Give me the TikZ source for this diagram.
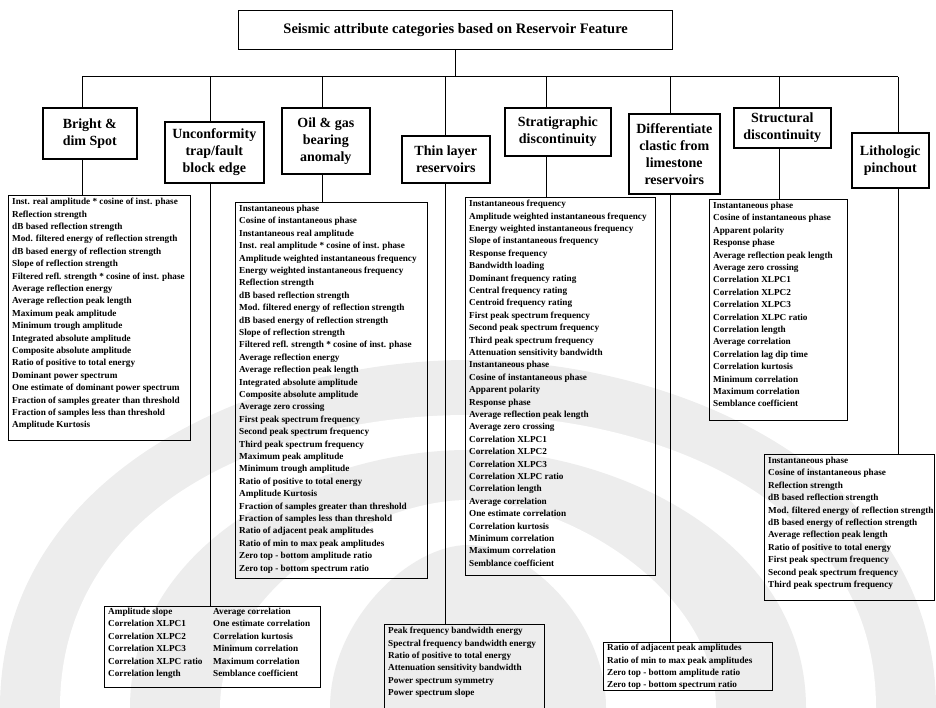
\documentclass[tikz,border=0pt]{standalone}
\usepackage{fontspec}
\setmainfont{Liberation Serif}
\begin{document}
\begin{tikzpicture}[x=1pt,y=-1pt,
  conn/.style={line width=1pt},
  lbox/.style={draw, line width=1.1pt, anchor=north west, inner sep=0pt},
  ltext/.style={anchor=north west, inner sep=0pt, align=left, font=\fontsize{9.2}{12.4}\selectfont\bfseries},
  hbox/.style={draw, line width=1.6pt, anchor=north west, inner sep=0pt, align=center, font=\fontsize{14}{17}\selectfont\bfseries},
  wm/.style={fill=gray!14}
]
\useasboundingbox (0,0) rectangle (936,708);
% faint watermark
\fill[wm] (0,708) .. controls (0,470) and (260,360) .. (468,360) .. controls (676,360) and (936,470) .. (936,708) -- cycle;
\fill[white] (60,708) .. controls (60,500) and (280,415) .. (468,415) .. controls (656,415) and (876,500) .. (876,708) -- cycle;
\fill[wm] (130,708) .. controls (130,540) and (320,450) .. (468,450) .. controls (616,450) and (806,540) .. (806,708) -- cycle;
\fill[white] (220,708) .. controls (220,590) and (370,500) .. (468,500) .. controls (566,500) and (716,590) .. (716,708) -- cycle;
\fill[wm] (330,708) .. controls (330,620) and (410,545) .. (468,545) .. controls (526,545) and (606,620) .. (606,708) -- cycle;

% title
\node[hbox, line width=1.3pt, minimum width=434pt, minimum height=39pt, font=\fontsize{14.5}{17}\selectfont\bfseries] (title) at (238,10) {Seismic attribute categories based on Reservoir Feature};

% headers
\node[hbox, minimum width=94pt, minimum height=51pt] (h1) at (42,107) {Bright \&\\dim Spot};
\node[hbox, minimum width=99pt, minimum height=61pt] (h2) at (164,121) {Unconformity\\trap/fault\\block edge};
\node[hbox, minimum width=88pt, minimum height=66pt] (h3) at (281,107) {Oil \& gas\\bearing\\anomaly};
\node[hbox, minimum width=88pt, minimum height=47pt] (h4) at (401,135) {Thin layer\\reservoirs};
\node[hbox, minimum width=106pt, minimum height=48pt] (h5) at (504,107) {Stratigraphic\\discontinuity};
\node[hbox, minimum width=91pt, minimum height=80pt] (h6) at (628,113) {Differentiate\\clastic from\\limestone\\reservoirs};
\node[hbox, minimum width=97pt, minimum height=40pt] (h7) at (733,107) {Structural\\discontinuity};
\node[hbox, minimum width=77pt, minimum height=55pt] (h8) at (851,132) {Lithologic\\pinchout};

% list boxes
\node[lbox, minimum width=182pt, minimum height=245pt] (b1) at (8,195) {};
\node[ltext] at ([xshift=4pt,yshift=-3pt]b1.north west) {Inst. real amplitude * cosine of inst. phase\\Reflection strength\\dB based reflection strength\\Mod. filtered energy of reflection strength\\dB based energy of reflection strength\\Slope of reflection strength\\Filtered refl. strength * cosine of inst. phase\\Average reflection energy\\Average reflection peak length\\Maximum peak amplitude\\Minimum trough amplitude\\Integrated absolute amplitude\\Composite absolute amplitude\\Ratio of positive to total energy\\Dominant power spectrum\\One estimate of dominant power spectrum\\Fraction of samples greater than threshold\\Fraction of samples less than threshold\\Amplitude Kurtosis};

\node[lbox, minimum width=216pt, minimum height=81pt] (b2) at (104,606) {};
\node[ltext] at ([xshift=4pt,yshift=-2pt]b2.north west) {Amplitude slope\\Correlation XLPC1\\Correlation XLPC2\\Correlation XLPC3\\Correlation XLPC ratio\\Correlation length};
\node[ltext] at ([xshift=109pt,yshift=-2pt]b2.north west) {Average correlation\\One estimate correlation\\Correlation kurtosis\\Minimum correlation\\Maximum correlation\\Semblance coefficient};

\node[lbox, minimum width=192pt, minimum height=376pt] (b3) at (235,202) {};
\node[ltext] at ([xshift=4pt,yshift=-3pt]b3.north west) {Instantaneous phase\\Cosine of instantaneous phase\\Instantaneous real amplitude\\Inst. real amplitude * cosine of inst. phase\\Amplitude weighted instantaneous frequency\\Energy weighted instantaneous frequency\\Reflection strength\\dB based reflection strength\\Mod. filtered energy of reflection strength\\dB based energy of reflection strength\\Slope of reflection strength\\Filtered refl. strength * cosine of inst. phase\\Average reflection energy\\Average reflection peak length\\Integrated absolute amplitude\\Composite absolute amplitude\\Average zero crossing\\First peak spectrum frequency\\Second peak spectrum frequency\\Third peak spectrum frequency\\Maximum peak amplitude\\Minimum trough amplitude\\Ratio of positive to total energy\\Amplitude Kurtosis\\Fraction of samples greater than threshold\\Fraction of samples less than threshold\\Ratio of adjacent peak amplitudes\\Ratio of min to max peak amplitudes\\Zero top - bottom amplitude ratio\\Zero top - bottom spectrum ratio};

\node[lbox, minimum width=160pt, minimum height=90pt] (b4) at (384,624) {};
\node[ltext] at ([xshift=4pt,yshift=-3pt]b4.north west) {Peak frequency bandwidth energy\\Spectral frequency bandwidth energy\\Ratio of positive to total energy\\Attenuation sensitivity bandwidth\\Power spectrum symmetry\\Power spectrum slope};

\node[lbox, minimum width=190pt, minimum height=378pt] (b5) at (465,197) {};
\node[ltext] at ([xshift=4pt,yshift=-3pt]b5.north west) {Instantaneous frequency\\Amplitude weighted instantaneous frequency\\Energy weighted instantaneous frequency\\Slope of instantaneous frequency\\Response frequency\\Bandwidth loading\\Dominant frequency rating\\Central frequency rating\\Centroid frequency rating\\First peak spectrum frequency\\Second peak spectrum frequency\\Third peak spectrum frequency\\Attenuation sensitivity bandwidth\\Instantaneous phase\\Cosine of instantaneous phase\\Apparent polarity\\Response phase\\Average reflection peak length\\Average zero crossing\\Correlation XLPC1\\Correlation XLPC2\\Correlation XLPC3\\Correlation XLPC ratio\\Correlation length\\Average correlation\\One estimate correlation\\Correlation kurtosis\\Minimum correlation\\Maximum correlation\\Semblance coefficient};

\node[lbox, minimum width=169pt, minimum height=48pt] (b6) at (603,642) {};
\node[ltext] at ([xshift=4pt,yshift=-2pt]b6.north west) {Ratio of adjacent peak amplitudes\\Ratio of min to max peak amplitudes\\Zero top - bottom amplitude ratio\\Zero top - bottom spectrum ratio};

\node[lbox, minimum width=138pt, minimum height=221pt] (b7) at (709,199) {};
\node[ltext] at ([xshift=4pt,yshift=-3pt]b7.north west) {Instantaneous phase\\Cosine of instantaneous phase\\Apparent polarity\\Response phase\\Average reflection peak length\\Average zero crossing\\Correlation XLPC1\\Correlation XLPC2\\Correlation XLPC3\\Correlation XLPC ratio\\Correlation length\\Average correlation\\Correlation lag dip time\\Correlation kurtosis\\Minimum correlation\\Maximum correlation\\Semblance coefficient};

\node[lbox, minimum width=170pt, minimum height=146pt] (b8) at (764,454) {};
\node[ltext] at ([xshift=4pt,yshift=-3pt]b8.north west) {Instantaneous phase\\Cosine of instantaneous phase\\Reflection strength\\dB based reflection strength\\Mod. filtered energy of reflection strength\\dB based energy of reflection strength\\Average reflection peak length\\Ratio of positive to total energy\\First peak spectrum frequency\\Second peak spectrum frequency\\Third peak spectrum frequency};

% connectors
\coordinate (d1) at (82,77);
\coordinate (d2) at (210,77);
\coordinate (d3) at (322,77);
\coordinate (d4) at (445,77);
\coordinate (d5) at (546,77);
\coordinate (d6) at (670,77);
\coordinate (d7) at (779,77);
\coordinate (d8) at (898,77);
\draw[conn] (title.south) -- (title.south |- d1);
\draw[conn] (d1) -- (d8);
\foreach \i in {1,...,8} {
  \draw[conn] (d\i) -- (d\i |- h\i.north);
  \draw[conn] (d\i |- h\i.south) -- (d\i |- b\i.north);
}
\end{tikzpicture}
\end{document}
